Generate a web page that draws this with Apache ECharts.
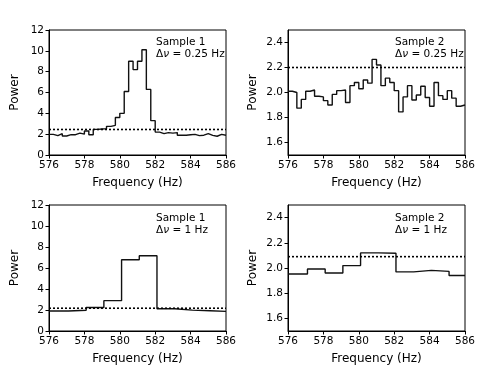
<!DOCTYPE html>
<html>
<head>
<meta charset="utf-8">
<script src="https://cdn.jsdelivr.net/npm/echarts@6/dist/echarts.min.js"></script>
<style>
  html, body { margin: 0; padding: 0; background: #fff; }
  #chart { width: 490px; height: 368px; }
</style>
</head>
<body>
<div id="chart"></div>
<script>
// 0.25 Hz bins, starting at 576 Hz
const fineStart = 576;
const fineWidth = 0.25;
const s1FinePower = [
  1.98, 1.86, 2.05, 1.82, 1.95, 1.95, 2.1, 2.0, 2.3, 1.95,
  2.46, 2.5, 2.53, 2.75, 2.85, 3.6, 4.0, 6.1, 9.0, 8.2,
  9.0, 10.1, 6.3, 3.3, 2.2, 2.05, 2.15, 2.1, 2.15, 1.9,
  1.9, 1.95, 1.98, 1.86, 1.9, 2.05, 1.88, 1.8, 1.98, 1.9
];
const s2FinePower = [
  2.01, 2.0, 1.875, 1.945, 2.01, 2.02, 1.97, 1.965, 1.935, 1.9,
  1.985, 2.015, 2.02, 1.92, 2.055, 2.08, 2.03, 2.1, 2.075, 2.265,
  2.22, 2.055, 2.115, 2.08, 2.015, 1.845, 1.965, 2.055, 1.94, 1.98,
  2.05, 1.96, 1.89, 2.08, 1.975, 1.945, 2.015, 1.955, 1.89, 1.9
];
// 1 Hz bins
const coarseEdges = [576, 577.1, 578.1, 579.1, 580.1, 581.1, 582.1, 583.1, 584.1, 585.1, 586];
const s1CoarsePower = [1.9, 1.97, 2.24, 2.89, 6.78, 7.17, 2.12, 1.99, 1.93, 1.87];
const s2CoarsePower = [1.952, 1.992, 1.96, 2.019, 2.12, 2.117, 1.969, 1.981, 1.973, 1.94];

// dotted threshold levels
const s1FineLevel = 2.45;
const s2FineLevel = 2.2;
const s1CoarseLevel = 2.17;
const s2CoarseLevel = 2.09;

const s2Ticks = [1.6, 1.8, 2.0, 2.2, 2.4];

const labels = [
  ['Sample 1', '0.25'],
  ['Sample 2', '0.25'],
  ['Sample 1', '1'],
  ['Sample 2', '1']
];

function fineSteps(power) {
  const pts = power.map((v, i) => [fineStart + i * fineWidth, v]);
  pts.push([fineStart + power.length * fineWidth, power[power.length - 1]]);
  return pts;
}
function coarseSteps(power) {
  const pts = power.map((v, i) => [coarseEdges[i], v]);
  pts.push([coarseEdges[coarseEdges.length - 1], power[power.length - 1]]);
  return pts;
}

const chart = echarts.init(document.getElementById('chart'));
const font = 'DejaVu Sans';

const grids = [
  { left: 49, top: 30, width: 177, height: 125 },
  { left: 288, top: 30, width: 177, height: 125 },
  { left: 49, top: 205, width: 177, height: 126 },
  { left: 288, top: 205, width: 177, height: 126 }
].map(g => Object.assign(g, { show: true, borderColor: '#000', borderWidth: 1, backgroundColor: 'transparent' }));

const xAxes = grids.map((g, i) => ({
  type: 'value', gridIndex: i, min: 576, max: 586, interval: 2,
  name: 'Frequency (Hz)', nameLocation: 'middle', nameGap: 22,
  nameTextStyle: { fontFamily: font, fontSize: 12, color: '#000' },
  axisLine: { show: true, onZero: false, lineStyle: { color: '#000', width: 1 } },
  axisTick: { show: true, inside: false, length: 3.5, lineStyle: { color: '#000' } },
  axisLabel: { fontFamily: font, fontSize: 10.5, color: '#000', margin: 5 },
  splitLine: { show: false }
}));

const yAxes = grids.map((g, i) => {
  const left = i % 2 === 0;
  const ax = {
    type: 'value', gridIndex: i,
    name: 'Power', nameLocation: 'middle', nameRotate: 90,
    nameGap: left ? 28 : 29,
    nameTextStyle: { fontFamily: font, fontSize: 12, color: '#000' },
    axisLine: { show: true, onZero: false, lineStyle: { color: '#000', width: 1 } },
    axisTick: { show: true, inside: false, length: 3.5, lineStyle: { color: '#000' } },
    axisLabel: { fontFamily: font, fontSize: 10.5, color: '#000', margin: 5 },
    splitLine: { show: false }
  };
  if (left) {
    ax.min = 0; ax.max = 12; ax.interval = 2;
  } else {
    ax.min = 1.5; ax.max = 2.5;
    ax.axisTick.customValues = s2Ticks;
    ax.axisLabel.customValues = s2Ticks;
    ax.axisLabel.formatter = v => v.toFixed(1);
  }
  return ax;
});

const traces = [fineSteps(s1FinePower), fineSteps(s2FinePower), coarseSteps(s1CoarsePower), coarseSteps(s2CoarsePower)];
const levels = [s1FineLevel, s2FineLevel, s1CoarseLevel, s2CoarseLevel];

const series = [];
traces.forEach((d, i) => {
  series.push({
    type: 'line', xAxisIndex: i, yAxisIndex: i, data: d, step: 'end',
    symbol: 'none', clip: true, animation: false,
    lineStyle: { color: '#111', width: 1.4 }
  });
  series.push({
    type: 'line', xAxisIndex: i, yAxisIndex: i,
    data: [[576, levels[i]], [586, levels[i]]],
    symbol: 'none', animation: false,
    lineStyle: { color: '#000', width: 1.6, type: [2, 2] }
  });
});

const textPos = [[156, 36], [395, 36], [156, 212], [395, 212]];
const graphic = labels.map((l, i) => ({
  type: 'text', left: textPos[i][0], top: textPos[i][1],
  style: {
    text: l[0] + '\nΔ{it|ν} = ' + l[1] + ' Hz',
    fontFamily: font, fontSize: 10.5, fill: '#000', lineHeight: 12,
    rich: { it: { fontStyle: 'italic', fontFamily: font, fontSize: 10.5 } }
  }
}));

chart.setOption({
  animation: false,
  grid: grids,
  xAxis: xAxes,
  yAxis: yAxes,
  series: series,
  graphic: graphic
});
</script>
</body>
</html>
